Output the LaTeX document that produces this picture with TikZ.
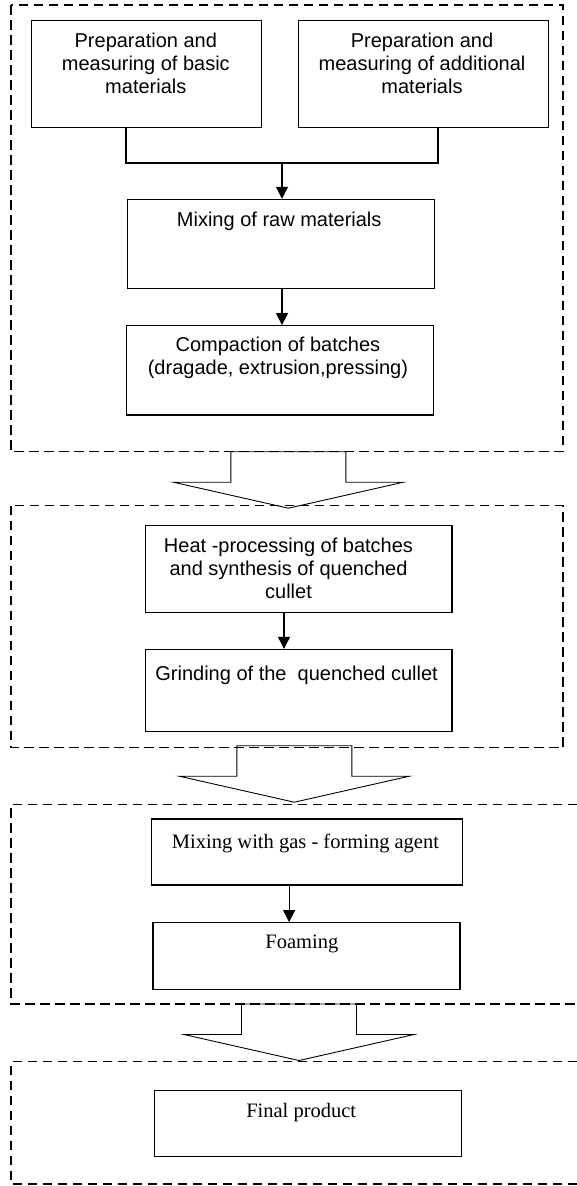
\documentclass[tikz,border=0pt]{standalone}
\usepackage{fontspec}
\setmainfont{Liberation Serif}
\newfontfamily\hvfont{Liberation Sans}
\usetikzlibrary{arrows.meta}

\begin{document}
\begin{tikzpicture}[x=1pt,y=-1pt,
  procbox/.style={draw, line width=1.1pt, rectangle, inner sep=0pt},
  grp/.style={draw, line width=1.5pt, dash pattern=on 9.5pt off 5.5pt},
  sanslabel/.style={anchor=north, inner sep=0pt, align=center, font=\hvfont\fontsize{20}{23}\selectfont},
  seriflabel/.style={anchor=north, inner sep=0pt, align=center, font=\fontsize{20.5}{23}\selectfont},
  flow/.style={line width=1.1pt, -{Triangle[length=12pt,width=12pt]}},
  link/.style={line width=1.1pt},
  fatarrow/.pic={\draw[line width=0.9pt] (-57.5,0) -- (-57.5,30.5) -- (-115,30.5) -- (0,56.5)
      -- (115,30.5) -- (57.5,30.5) -- (57.5,0) -- cycle;}]
\useasboundingbox (0,0) rectangle (577,1186);

% stage groups
\draw[grp] (11,5) rectangle (563,451.7);
\draw[grp] (11,505.7) rectangle (563,747.7);
\draw[grp] (577,804.3) -- (11,804.3) -- (11,1004) -- (577,1004);
\draw[grp] (577,1061.7) -- (11,1061.7) -- (11,1184) -- (577,1184);

% process steps
\node[procbox, minimum width=229.7, minimum height=107] (basic) at (146.5,74.2) {};
\node[procbox, minimum width=250.3, minimum height=107] (addit) at (423.6,74.2) {};
\node[procbox, minimum width=307, minimum height=89.4] (mix) at (281.2,244) {};
\node[procbox, minimum width=307, minimum height=89.3] (comp) at (279.7,370.3) {};
\node[procbox, minimum width=306.6, minimum height=87.3] (heat) at (298.7,568.7) {};
\node[procbox, minimum width=306.6, minimum height=81.7] (grind) at (298.7,690.2) {};
\node[procbox, minimum width=311, minimum height=66] (gas) at (306.8,852) {};
\node[procbox, minimum width=307, minimum height=66.6] (foam) at (306.5,956) {};
\node[procbox, minimum width=307, minimum height=66] (final) at (308,1123.7) {};

% labels
\node[sanslabel] (tbasic) at (145.8,32.7) {Preparation and\\measuring of basic\\materials};
\node[sanslabel] (taddit) at (422,32.7) {Preparation and\\measuring of additional\\materials};
\node[sanslabel] (tmix) at (279.2,211.7) {Mixing of raw materials};
\node[sanslabel] (tcomp) at (277.9,337.3) {Compaction of batches\\(dragade, extrusion,pressing)};
\node[sanslabel] (theat) at (288.5,538) {Heat -processing of batches\\and synthesis of quenched\\cullet};
\node[sanslabel] (tgrind) at (296.6,665.7) {Grinding of the\ \ quenched cullet};
\node[seriflabel] (tgas) at (305.5,834) {Mixing with gas - forming agent};
\node[seriflabel] (tfoam) at (301.8,935) {Foaming};
\node[seriflabel] (tfinal) at (301.2,1103) {Final product};

% connectors
\coordinate (join) at (282,163);
\draw[link] ([xshift=-20.5pt]basic.south) |- (join);
\draw[link] ([xshift=14.4pt]addit.south) |- (join);
\draw[flow] (join) -- (join |- mix.north);
\draw[flow] ([xshift=0.8pt]mix.south) -- ([xshift=0.8pt]mix.south |- comp.north);
\draw[flow] ([xshift=-14.7pt]heat.south) -- ([xshift=-14.7pt]grind.north);
\draw[flow] ([xshift=-17.7pt]gas.south) -- ([xshift=-17.4pt]foam.north);

% transitions between stages
\pic at (288.4,451.7) {fatarrow};
\pic at (294.3,745.7) {fatarrow};
\pic at (299,1004) {fatarrow};
\end{tikzpicture}
\end{document}
